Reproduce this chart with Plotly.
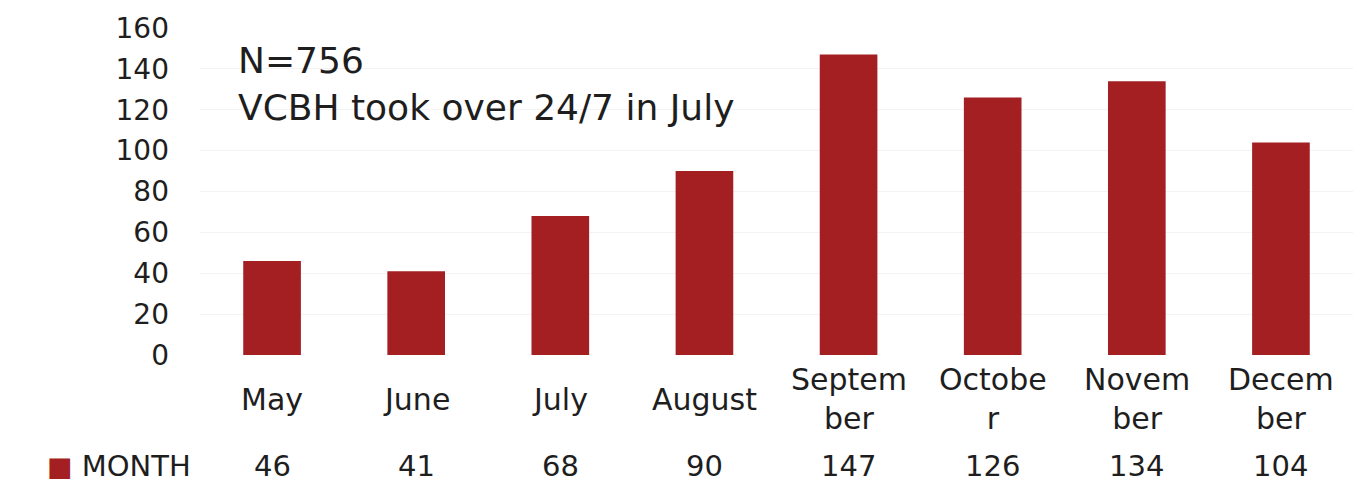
import plotly.graph_objects as go

# Monthly counts
months = ["May", "June", "July", "August", "September", "October", "November", "December"]
month_labels = ["May", "June", "July", "August", "Septem<br>ber", "Octobe<br>r", "Novem<br>ber", "Decem<br>ber"]
counts = [46, 41, 68, 90, 147, 126, 134, 104]
y_ticks = [0, 20, 40, 60, 80, 100, 120, 140, 160]

BAR = "#a31f22"
TXT = "#1e1e1e"
FONT = "DejaVu Sans"

fig = go.Figure(
    go.Bar(
        x=months,
        y=counts,
        marker=dict(color=BAR, line=dict(width=0)),
        width=0.4,
        showlegend=False,
        hoverinfo="skip",
    )
)

annotations = []
# category labels under the axis
for m, lab in zip(months, month_labels):
    annotations.append(dict(
        x=m, xref="x", y=-0.135, yref="paper", text=lab, showarrow=False,
        xanchor="center", yanchor="middle", align="center",
        font=dict(family=FONT, size=30, color=TXT),
    ))
# data table row
for m, v in zip(months, counts):
    annotations.append(dict(
        x=m, xref="x", y=-0.339, yref="paper", text=str(v), showarrow=False,
        xanchor="center", yanchor="middle",
        font=dict(family=FONT, size=29, color=TXT),
    ))
# series key
annotations.append(dict(
    x=-0.134, xref="paper", y=-0.339, yref="paper",
    text=f"<span style='color:{BAR};font-size:27px'>■</span> MONTH", showarrow=False,
    xanchor="left", yanchor="middle",
    font=dict(family=FONT, size=29, color=TXT),
))
# note
annotations.append(dict(
    x=0.031, xref="paper", y=0.83, yref="paper",
    text="N=756<br>VCBH took over 24/7 in July", showarrow=False,
    xanchor="left", yanchor="middle", align="left",
    font=dict(family=FONT, size=36, color=TXT),
))

fig.update_layout(
    width=1361,
    height=489,
    margin=dict(l=200, r=8, t=28, b=134),
    paper_bgcolor="white",
    plot_bgcolor="white",
    annotations=annotations,
    bargap=0.6,
)
fig.update_xaxes(showticklabels=False, showgrid=False, zeroline=False, showline=False, ticks="")
fig.update_yaxes(
    range=[0, 160],
    tickvals=y_ticks,
    showgrid=True,
    gridcolor="#f3f3f3",
    zeroline=False,
    showline=False,
    ticks="",
    ticklabelstandoff=30,
    tickfont=dict(family=FONT, size=28, color=TXT),
)

fig.write_html("out.html")
